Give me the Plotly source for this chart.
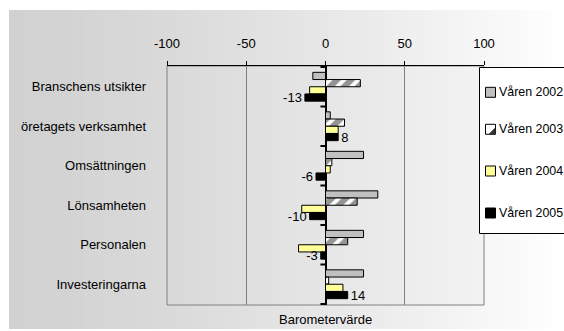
import plotly.graph_objects as go

# Survey categories (top to bottom) and barometer values per spring survey
categories = [
    "Branschens utsikter",
    "öretagets verksamhet",
    "Omsättningen",
    "Lönsamheten",
    "Personalen",
    "Investeringarna",
]
series_names = ["Våren 2002", "Våren 2003", "Våren 2004", "Våren 2005"]
v2002 = [-8, 3, 24, 33, 24, 24]
v2003 = [22, 12, 4, 20, 14, 2]
v2004 = [-10, 8, 3, -15, -17, 11]
v2005 = [-13, 8, -6, -10, -3, 14]
x_ticks = [-100, -50, 0, 50, 100]
x_ticktext = ["-100", "-50", "0", "50", "100"]
x_title = "Barometervärde"

W, H = 564, 331
L, R, T, B = 167, 484, 66, 305
FONT = "Liberation Sans, Arial, sans-serif"


def px(x):
    return (x - L) / (R - L)


def py(y):
    return (B - y) / (B - T)


def gray(v):
    v = int(round(max(0, min(255, v))))
    return f"rgb({v},{v},{v})"


fills = ["#c0c0c0", "#ffffff", "#ffff99", "#000000"]
values = [v2002, v2003, v2004, v2005]

fig = go.Figure()
for i, (name, vals, col) in enumerate(zip(series_names, values, fills)):
    kw = {}
    if i == 1:
        kw["pattern"] = dict(shape="/", fgcolor="#2a2a2a", bgcolor="#ffffff",
                             size=10, solidity=0.6)
    bar = go.Bar(
        name=name, y=categories, x=vals, orientation="h",
        marker=dict(color=col, line=dict(color="#000000", width=1), **kw),
        showlegend=False,
    )
    if i == 3:
        bar.update(text=[str(v) for v in vals], textposition="outside",
                   textfont=dict(size=13, color="#000000", family=FONT),
                   constraintext="none", cliponaxis=False, textangle=0)
    fig.add_trace(bar)

shapes = []
# background gradient of the chart area
n = 80
x0o, x1o = 9, W
for k in range(n):
    a = x0o + (x1o - x0o) * k / n
    b = x0o + (x1o - x0o) * (k + 1) / n + 0.6
    t = (k + 0.5) / n
    shapes.append(dict(type="rect", xref="paper", yref="paper",
                       x0=px(a), x1=px(b), y0=py(329), y1=py(10),
                       fillcolor=gray(209 + 46 * t ** 1.3), line=dict(width=0),
                       layer="below"))
# plot area gradient
m = 60
for k in range(m):
    a = L + (R - L) * k / m
    b = L + (R - L) * (k + 1) / m + 0.6
    t = (k + 0.5) / m
    shapes.append(dict(type="rect", xref="paper", yref="paper",
                       x0=px(a), x1=px(min(b, R)), y0=0, y1=1,
                       fillcolor=gray(217 + 26 * t), line=dict(width=0),
                       layer="below"))
# gray frame at the bottom and sides of the plot area
shapes.append(dict(type="rect", xref="paper", yref="paper", x0=0, x1=1, y0=0, y1=1,
                   line=dict(color="#808080", width=1), fillcolor="rgba(0,0,0,0)",
                   layer="below"))
# tick marks on the value-zero axis at category boundaries
for j in range(len(categories) + 1):
    shapes.append(dict(type="line", xref="x", yref="y", x0=-3.2, x1=0,
                       y0=j - 0.5, y1=j - 0.5, line=dict(color="#000000", width=2)))

# legend box
legend_y = [92.3, 129.3, 171, 213]
shapes.append(dict(type="rect", xref="paper", yref="paper",
                   x0=px(479.5), x1=px(600), y0=py(233.5), y1=py(67.5),
                   fillcolor="#ffffff", line=dict(color="#000000", width=1),
                   layer="above"))
annotations = []
for i, (name, col, yy) in enumerate(zip(series_names, fills, legend_y)):
    shapes.append(dict(type="rect", xref="paper", yref="paper",
                       x0=px(485.5), x1=px(495.5), y0=py(yy + 5), y1=py(yy - 5),
                       fillcolor="#c0c0c0" if i == 0 else col,
                       line=dict(color="#000000", width=1), layer="above"))
    if i == 1:
        shapes.append(dict(type="path", xref="paper", yref="paper",
                           path=f"M{px(495.5)},{py(yy - 2)} L{px(495.5)},{py(yy + 5)} "
                                f"L{px(488.5)},{py(yy + 5)} Z",
                           fillcolor="#333333", line=dict(width=0), layer="above"))
    annotations.append(dict(xref="paper", yref="paper", x=px(496.5), y=py(yy),
                            xanchor="left", yanchor="middle", text=name,
                            showarrow=False,
                            font=dict(size=12.4, color="#000000", family=FONT)))

annotations.append(dict(xref="paper", yref="paper", x=px(325.5), y=py(319),
                        xanchor="center", yanchor="middle", text=x_title,
                        showarrow=False,
                        font=dict(size=13, color="#000000", family=FONT)))

fig.update_layout(
    width=W, height=H,
    margin=dict(l=L, r=W - R, t=T, b=H - B, autoexpand=False),
    paper_bgcolor="#ffffff", plot_bgcolor="rgba(0,0,0,0)",
    barmode="group", bargap=0.27, bargroupgap=0,
    font=dict(family=FONT, size=13, color="#000000"),
    shapes=shapes, annotations=annotations, showlegend=False,
    xaxis=dict(side="top", range=[-100, 100], tickvals=x_ticks, ticktext=x_ticktext,
               ticks="outside", ticklen=4, tickcolor="#000000", tickwidth=1,
               showline=True, linecolor="#000000", linewidth=1,
               showgrid=True, gridcolor="#808080", gridwidth=1,
               zeroline=True, zerolinecolor="#000000", zerolinewidth=2,
               ticklabelstandoff=8, fixedrange=True),
    yaxis=dict(autorange="reversed", ticks="", showgrid=False, showline=False,
               zeroline=False, ticklabelstandoff=20, fixedrange=True),
)

fig.write_html("out.html")
